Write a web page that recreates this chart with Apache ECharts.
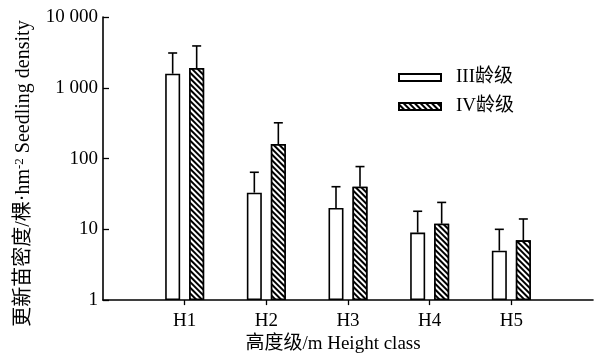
<!DOCTYPE html>
<html><head><meta charset="utf-8">
<script src="https://cdn.jsdelivr.net/npm/echarts@6/dist/echarts.min.js"></script>
<style>html,body{margin:0;padding:0;background:#fff}#c{width:598px;height:359px}</style>
</head><body><div id="c"></div>
<script>
var categories = ['H1', 'H2', 'H3', 'H4', 'H5'];
var seriesNames = ['III龄级', 'IV龄级'];
var meanIII = [1580, 33, 20, 9, 5];
var errTopIII = [3100, 64, 40, 18, 10];
var meanIV = [1900, 160, 40, 12, 7];
var errTopIV = [3900, 320, 77, 24, 14];
var yTicks = [1, 10, 100, 1000, 10000];
var yTickLabels = ['1', '10', '100', '1 000', '10 000'];

var FONT = '"Liberation Serif", "Noto Sans CJK SC", serif';
var BAR_W = 15, OFFSET = 12;

function pts(arr){ return arr.map(function(v,i){ return [i+1, v]; }); }
function errData(mean, top){ return mean.map(function(v,i){ return [i+1, v, top[i]]; }); }

function errRender(off){
  return function(params, api){
    var x = api.value(0), lo = api.value(1), hi = api.value(2);
    var p1 = api.coord([x, lo]), p2 = api.coord([x, hi]);
    var cx = p1[0] + off;
    var st = {stroke:'#000', lineWidth:1.6};
    return {type:'group', children:[
      {type:'line', shape:{x1:cx, y1:p1[1], x2:cx, y2:p2[1]}, style:st},
      {type:'line', shape:{x1:cx-4.5, y1:p2[1], x2:cx+4.5, y2:p2[1]}, style:st}
    ]};
  };
}

var chart = echarts.init(document.getElementById('c'), null, {renderer:'canvas'});
chart.setOption({
  animation:false,
  backgroundColor:'#fff',
  grid:{left:103, right:5, top:17, bottom:57},
  legend:{
    orient:'vertical', left:393, top:63, itemWidth:42, itemHeight:7, itemGap:10, icon:'rect',
    textStyle:{fontFamily:FONT, fontSize:19, color:'#000', padding:[0,0,0,10]},
    data:seriesNames
  },
  xAxis:{
    type:'value', min:0, max:6, interval:1,
    name:'高度级/m Height class', nameLocation:'middle', nameGap:34,
    nameTextStyle:{fontFamily:FONT, fontSize:19, color:'#000', padding:[0,30,0,0]},
    axisLine:{lineStyle:{color:'#000', width:1.6}},
    axisTick:{length:5, lineStyle:{color:'#000', width:1.3}, customValues:[1,2,3,4,5]},
    axisLabel:{fontFamily:FONT, fontSize:19, color:'#000', margin:11,
      customValues:[1,2,3,4,5],
      formatter:function(v){ return categories[v-1] || ''; }},
    splitLine:{show:false}
  },
  yAxis:{
    type:'log', logBase:10, min:1, max:10000,
    name:'更新苗密度/棵·hm{sup|-2} Seedling density', nameLocation:'middle', nameGap:69,
    nameTextStyle:{fontFamily:FONT, fontSize:20, color:'#000', padding:[0,0,0,-30],
      rich:{sup:{fontFamily:FONT, fontSize:13, color:'#000', verticalAlign:'top', padding:[0,0,8,0]}}},
    axisLine:{show:true, lineStyle:{color:'#000', width:1.6}},
    axisTick:{inside:true, length:6, lineStyle:{color:'#000', width:1.3}},
    axisLabel:{fontFamily:FONT, fontSize:19, color:'#000', margin:5,
      formatter:function(v){ var i = yTicks.indexOf(Math.round(v)); return i>=0 ? yTickLabels[i] : ''; }},
    splitLine:{show:false}
  },
  series:[
    {name:seriesNames[0], type:'bar', barWidth:BAR_W, barGap:'60%', data:pts(meanIII),
      itemStyle:{color:'#fff', borderColor:'#000', borderWidth:1.6}},
    {name:seriesNames[1], type:'bar', barWidth:BAR_W, barGap:'60%', data:pts(meanIV),
      itemStyle:{color:'#fff', borderColor:'#000', borderWidth:1.6,
        decal:{symbol:'rect', symbolSize:1, dashArrayX:[1,0], dashArrayY:[1.5,1.5], rotation:Math.PI/4, color:'#000', backgroundColor:'#fff'}}},
    {type:'custom', renderItem:errRender(-OFFSET), data:errData(meanIII, errTopIII), z:5, encode:{x:0, y:[1,2]}},
    {type:'custom', renderItem:errRender(OFFSET), data:errData(meanIV, errTopIV), z:5, encode:{x:0, y:[1,2]}}
  ]
});
</script></body></html>
